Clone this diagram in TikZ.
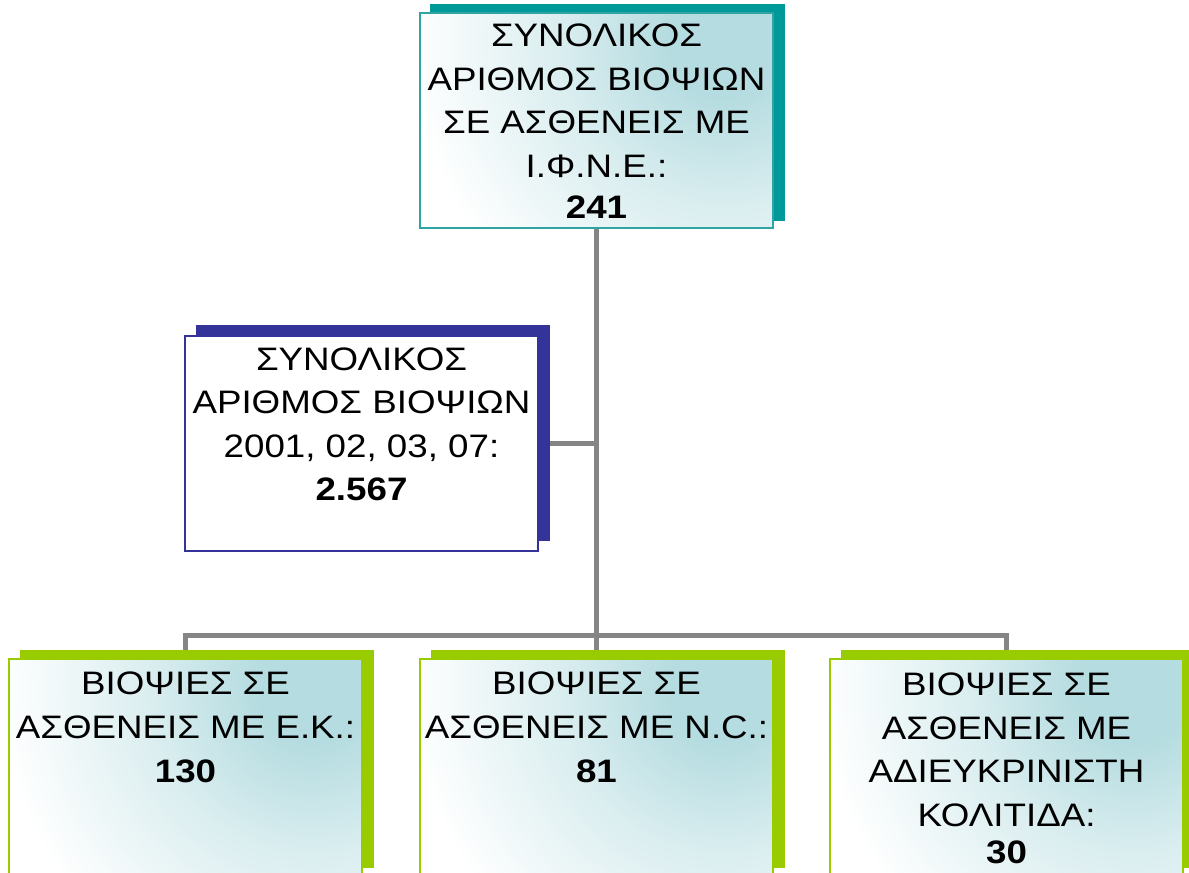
\documentclass[tikz,border=0pt]{standalone}
\usepackage{fontspec}
\setmainfont[FakeStretch=1.13]{Liberation Sans}
\definecolor{tealS}{HTML}{009999}
\definecolor{tealB}{HTML}{30A4A4}
\definecolor{tealL}{HTML}{B5DCE0}
\definecolor{navyS}{HTML}{333399}
\definecolor{limeS}{HTML}{99CC00}
\definecolor{connG}{HTML}{858585}
\pgfdeclarelayer{bg}
\pgfdeclarelayer{shad}
\pgfsetlayers{bg,shad,main}
% soft corner glow: light teal at the centre fading to white
\pgfdeclareradialshading{cornerglow}{\pgfpoint{0bp}{0bp}}{%
  color(0bp)=(tealL); color(4bp)=(tealL); color(12bp)=(tealL!50!white);
  color(23bp)=(white); color(50bp)=(white)}
\begin{document}
\begin{tikzpicture}[x=1pt,y=-1pt,
  frontbox/.style={draw=#1, line width=1.5pt, inner sep=0pt, fill=white},
  glow/.style={path picture={\shade[shading=cornerglow]
      ([xshift=-50pt,yshift=-30pt]path picture bounding box.north east) circle (340pt);}},
  txt/.style={anchor=base, inner sep=0pt, align=center,
      font=\fontsize{32.5}{43.6}\selectfont},
  conn/.style={draw=connG, line width=5pt},
  boxsize/.style={minimum width=353pt, minimum height=215pt}
]
\useasboundingbox (0,0) rectangle (1189,873);
\clip (0,0) rectangle (1189,873);

% front boxes
\node[frontbox=tealB, glow, boxsize] (top) at (596.5,120.5) {};
\node[frontbox=navyS, line width=1.2pt, boxsize] (left) at (361.5,443.5) {};
\node[frontbox=limeS, glow, boxsize, minimum height=216pt] (bl) at (185.5,767) {};
\node[frontbox=limeS, glow, boxsize, minimum height=216pt] (bm) at (596.5,767) {};
\node[frontbox=limeS, glow, boxsize, minimum height=216pt] (br) at (1006.5,767) {};

% offset shadows behind the boxes
\begin{pgfonlayer}{shad}
  \fill[tealS] ([xshift=11pt,yshift=8pt]top.south west) rectangle ([xshift=11pt,yshift=8pt]top.north east);
  \fill[navyS] ([xshift=11.5pt,yshift=10.5pt]left.south west) rectangle ([xshift=11.5pt,yshift=10.5pt]left.north east);
  \foreach \b in {bl,bm,br}
    \fill[limeS] ([xshift=11.5pt,yshift=8pt]\b.south west) rectangle ([xshift=11.5pt,yshift=8pt]\b.north east);
\end{pgfonlayer}

% texts (anchored at the baseline of the last line)
\node[txt] (topT) at (596.5,218) {ΣΥΝΟΛΙΚΟΣ\\ΑΡΙΘΜΟΣ ΒΙΟΨΙΩΝ\\ΣΕ ΑΣΘΕΝΕΙΣ ΜΕ\\Ι.Φ.Ν.Ε.:\\[-3pt]\textbf{241}};
\node[txt] (leftT) at (361.5,500) {ΣΥΝΟΛΙΚΟΣ\\ΑΡΙΘΜΟΣ ΒΙΟΨΙΩΝ\\2001, 02, 03, 07:\\[-1pt]\textbf{2.567}};
\node[txt] (blT) at (185.5,782) {ΒΙΟΨΙΕΣ ΣΕ\\ΑΣΘΕΝΕΙΣ ΜΕ Ε.Κ.:\\\textbf{130}};
\node[txt] (bmT) at (596.5,782) {ΒΙΟΨΙΕΣ ΣΕ\\ΑΣΘΕΝΕΙΣ ΜΕ Ν.C.:\\\textbf{81}};
\node[txt] (brT) at (1006.5,863) {ΒΙΟΨΙΕΣ ΣΕ\\ΑΣΘΕΝΕΙΣ ΜΕ\\ΑΔΙΕΥΚΡΙΝΙΣΤΗ\\ΚΟΛΙΤΙΔΑ:\\[-7pt]\textbf{30}};

% connectors
\coordinate (bus) at (597,635);
\begin{pgfonlayer}{bg}
  \draw[conn] (top.south) -- (bm.north);
  \draw[conn] (left.east) -- (left.east -| top.south);
  \draw[conn] (bl.north) -- (bl.north |- bus) -- (br.north |- bus) -- (br.north);
\end{pgfonlayer}
\end{tikzpicture}
\end{document}
